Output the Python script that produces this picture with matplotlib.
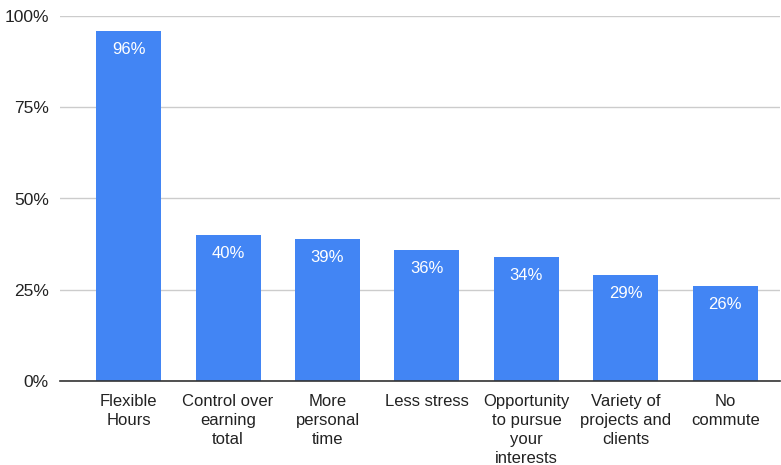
import numpy as np
import matplotlib.pyplot as plt
from matplotlib.ticker import FuncFormatter

categories = ["Flexible\nHours", "Control over\nearning\ntotal", "More\npersonal\ntime",
              "Less stress", "Opportunity\nto pursue\nyour\ninterests",
              "Variety of\nprojects and\nclients", "No\ncommute"]
values = [96, 40, 39, 36, 34, 29, 26]
yticks = [0, 25, 50, 75, 100]

plt.rcParams['font.family'] = ['Liberation Sans', 'DejaVu Sans']

fig = plt.figure(figsize=(7.81, 4.65), dpi=100)
ax = fig.add_axes([60/781, (465-381)/465, 720/781, 365/465])

x = np.arange(len(categories))
bars = ax.bar(x, values, width=0.654, color="#4285f4", zorder=3)

for b, v in zip(bars, values):
    ax.annotate(f"{v}%", (b.get_x() + b.get_width()/2, v),
                xytext=(0, -13.5), textcoords="offset points",
                ha="center", va="center", color="white", fontsize=12, zorder=4)

ax.set_xlim(-0.69, 6.55)
ax.set_ylim(0, 100)
ax.set_yticks(yticks)
ax.yaxis.set_major_formatter(FuncFormatter(lambda v, p: f"{int(v)}%"))
ax.set_xticks(x)
ax.set_xticklabels(categories, fontsize=12, color="#222222", linespacing=1.35)
ax.tick_params(axis="y", labelsize=12.5, labelcolor="#222222", length=0, pad=8)
ax.tick_params(axis="x", length=0, pad=9)

ax.grid(axis="y", color="#cccccc", linewidth=1, zorder=0)
for s in ["top", "right", "left"]:
    ax.spines[s].set_visible(False)
ax.spines["bottom"].set_color("#333333")
ax.spines["bottom"].set_linewidth(1.2)
ax.spines["bottom"].set_zorder(5)

fig.savefig("out.png", dpi=100)
